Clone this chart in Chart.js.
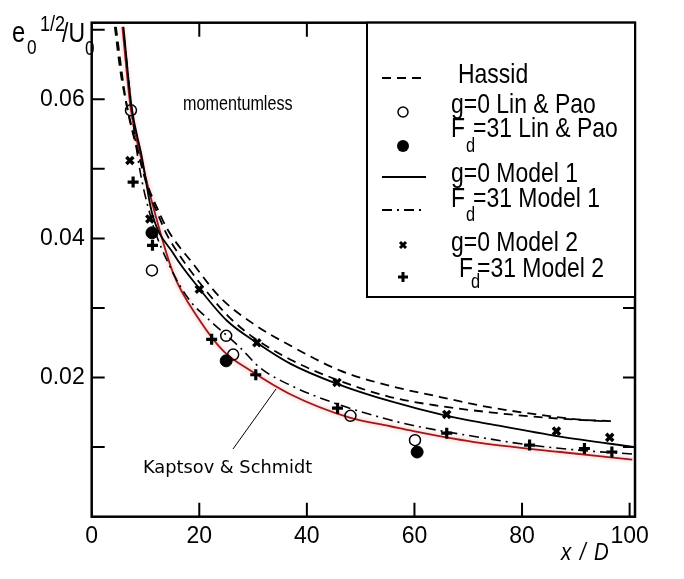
<!DOCTYPE html>
<html>
<head>
<meta charset="utf-8">
<script src="https://cdn.jsdelivr.net/npm/chart.js@4.4.1/dist/chart.umd.min.js"></script>
<style>
  html, body { margin:0; padding:0; background:#fff; }
  #c { display:block; }
</style>
</head>
<body>
<canvas id="c" width="684" height="579"></canvas>
<script>
/* curves (x/D , e0^1/2/U0) */
const hassidUpX = [4.3, 5.3, 6.3, 8.7, 10.5, 12.1, 14, 18.9, 23.9, 30.1, 36.9, 46.2, 55.5, 64.8, 74.1, 80.9, 90.2, 97.4];
const hassidUpY = [0.0704, 0.0642, 0.0599, 0.0522, 0.0474, 0.0445, 0.0414, 0.0363, 0.0315, 0.0277, 0.0246, 0.0210, 0.0188, 0.0172, 0.0157, 0.0149, 0.0140, 0.0137];
const hassidLoX = [4.5, 6.4, 8.8, 10.6, 12.3, 14, 16.4, 20, 25.4, 30, 36.9, 46.2, 55.5, 64.8, 74.1, 85, 96];
const hassidLoY = [0.0704, 0.0596, 0.0518, 0.0468, 0.0435, 0.0405, 0.0375, 0.0337, 0.0288, 0.0258, 0.0226, 0.0195, 0.0172, 0.0159, 0.0150, 0.0142, 0.0137];
const model1gX = [5.9, 7.4, 9.3, 11.2, 15.2, 20.1, 25.1, 30.7, 36.9, 45.6, 55.5, 66, 74.1, 87.1, 101];
const model1gY = [0.0704, 0.0590, 0.0518, 0.0437, 0.0378, 0.0327, 0.0282, 0.0250, 0.0220, 0.0191, 0.0166, 0.0145, 0.0133, 0.0115, 0.0100];
const model1fX = [6.0, 8.4, 11, 14.9, 18.3, 21.4, 27.6, 31.3, 36.9, 45.6, 55.5, 59.8, 72.2, 81.5, 91.5, 100.7];
const model1fY = [0.0690, 0.0525, 0.0430, 0.0354, 0.0310, 0.0286, 0.0243, 0.0214, 0.0189, 0.0162, 0.0139, 0.0131, 0.0114, 0.0103, 0.0095, 0.0090];
const kaptsovX = [5.7, 7.3, 9.3, 11.8, 15.2, 20.1, 24.5, 29.5, 36.9, 48.1, 55.5, 59.8, 72.2, 87.1, 100.5];
const kaptsovY = [0.0704, 0.0584, 0.0512, 0.0435, 0.0349, 0.0282, 0.0238, 0.0210, 0.0176, 0.0142, 0.0130, 0.0123, 0.0106, 0.0093, 0.0082];

/* symbols */
const linPaoGX = [7.3, 11.2, 25.0, 26.3, 48.1, 60.1];
const linPaoGY = [0.0584, 0.0354, 0.0260, 0.0233, 0.0145, 0.0110];
const linPaoFX = [11.2, 25.0, 60.5];
const linPaoFY = [0.0408, 0.0224, 0.0093];
const model2gX = [7.1, 10.8, 20.0, 30.7, 45.6, 66.0, 86.4, 96.3];
const model2gY = [0.0512, 0.0428, 0.0327, 0.0250, 0.0193, 0.0147, 0.0123, 0.0114];
const model2fX = [7.7, 11.3, 22.3, 30.5, 45.7, 66.0, 81.4, 91.6, 96.7];
const model2fY = [0.0481, 0.0390, 0.0255, 0.0204, 0.0156, 0.0120, 0.0103, 0.0098, 0.0093];

/* axes */
const xTicks = [0, 20, 40, 60, 80, 100];
const yLabelled = ["0.02", "0.04", "0.06"];

const SANS = "'Liberation Sans',Arial,sans-serif";
const DASH = [9, 6];
const DASHDOT = [10, 5, 2, 5];

const pts = (xs, ys) => xs.map((x, i) => ({x, y: ys[i]}));

function curve(label, xs, ys, color, dash, width) {
  return {label, data: pts(xs, ys), showLine: true, borderColor: color, borderWidth: width,
    borderDash: dash, pointRadius: 0, cubicInterpolationMode: "monotone", fill: false};
}
function symbols(label, xs, ys, style, r, bw, fillCol) {
  return {label, data: pts(xs, ys), showLine: false, pointStyle: style, pointRadius: r,
    pointBorderWidth: bw, pointBorderColor: "#000", pointBackgroundColor: fillCol};
}

const datasets = [
  symbols("g=0 Lin & Pao", linPaoGX, linPaoGY, "circle", 5.5, 1.5, "rgba(0,0,0,0)"),
  symbols("Fd=31 Lin & Pao", linPaoFX, linPaoFY, "circle", 6, 1, "#000"),
  symbols("g=0 Model 2", model2gX, model2gY, "crossRot", 5, 3.5, "#000"),
  symbols("Fd=31 Model 2", model2fX, model2fY, "cross", 5.5, 3.2, "#000"),
  curve("Hassid", hassidUpX, hassidUpY, "#000", DASH, 1.8),
  curve("Hassid 2", hassidLoX, hassidLoY, "#000", DASH, 1.8),
  curve("g=0 Model 1", model1gX, model1gY, "#000", [], 1.8),
  curve("Fd=31 Model 1", model1fX, model1fY, "#000", DASHDOT, 1.6),
  curve("Kaptsov & Schmidt", kaptsovX, kaptsovY, "#9c1a1c", [], 1.8)
];
const KS = datasets.length - 1;

// text with optional horizontal squeeze (the figure uses a narrow face)
function txt(ctx, s, x, y, font, sx) {
  ctx.save();
  ctx.translate(x, y);
  ctx.scale(sx || 1, 1);
  ctx.font = font;
  ctx.textAlign = "left";
  ctx.textBaseline = "alphabetic";
  ctx.fillText(s, 0, 0);
  ctx.restore();
}

const decor = {
  id: "decor",
  beforeDatasetDraw(chart, args) {
    if (args.index === KS) {
      const ctx = chart.ctx;
      ctx.shadowColor = "rgba(240,120,120,0.7)";
      ctx.shadowBlur = 4;
    }
  },
  afterDatasetDraw(chart, args) {
    if (args.index === KS) {
      chart.ctx.shadowColor = "rgba(0,0,0,0)";
      chart.ctx.shadowBlur = 0;
    }
  },
  afterDraw(chart) {
    const ctx = chart.ctx;
    const a = chart.chartArea;
    const xs = chart.scales.x, ys = chart.scales.y;
    ctx.save();
    ctx.strokeStyle = "#000";
    ctx.fillStyle = "#000";
    ctx.setLineDash([]);

    // frame
    ctx.lineWidth = 2.5;
    ctx.strokeRect(a.left, a.top, a.right - a.left, a.bottom - a.top);

    // inward ticks
    ctx.lineWidth = 2;
    ctx.beginPath();
    xs.ticks.forEach(t => {
      const p = xs.getPixelForValue(t.value);
      if (t.value === 0) return;
      ctx.moveTo(p, a.bottom); ctx.lineTo(p, a.bottom - 14);
      ctx.moveTo(p, a.top); ctx.lineTo(p, a.top + 14);
    });
    ys.ticks.forEach(t => {
      const p = ys.getPixelForValue(t.value);
      if (t.value === 0) return;
      ctx.moveTo(a.left, p); ctx.lineTo(a.left + 13, p);
      ctx.moveTo(a.right, p); ctx.lineTo(a.right - 12, p);
    });
    ctx.stroke();

    const N = 0.82;
    // y axis title
    txt(ctx, "e", 12, 42, "29px " + SANS, N);
    txt(ctx, "0", 27, 54, "21px " + SANS, N);
    txt(ctx, "1/2", 40, 31, "22px " + SANS, N);
    txt(ctx, "/U", 62, 42, "28px " + SANS, N);
    txt(ctx, "0", 85, 55, "21px " + SANS, N);

    // x axis title
    const it = "italic 24px " + SANS;
    txt(ctx, "x", 561, 560, it, 0.85);
    txt(ctx, "/", 580, 560, it, 0.85);
    txt(ctx, "D", 594, 560, it, 0.85);

    // annotations
    txt(ctx, "momentumless", 183, 110, "21px " + SANS, 0.77);
    txt(ctx, "Kaptsov & Schmidt", 143, 473, "17.8px 'DejaVu Sans',sans-serif");
    ctx.lineWidth = 1;
    ctx.beginPath();
    ctx.moveTo(233, 449); ctx.lineTo(276, 389);
    ctx.stroke();

    // legend box
    ctx.fillStyle = "#fff";
    ctx.fillRect(367, a.top, a.right - 367, 297 - a.top);
    ctx.fillStyle = "#000";
    ctx.lineWidth = 2;
    ctx.strokeRect(367, a.top, a.right - 367, 297 - a.top);

    const sample = (y, dash) => {
      ctx.lineWidth = 1.8;
      ctx.setLineDash(dash);
      ctx.beginPath(); ctx.moveTo(382, y); ctx.lineTo(426, y); ctx.stroke();
      ctx.setLineDash([]);
    };
    sample(78, DASH);
    sample(177, []);
    sample(210, DASHDOT);

    ctx.lineWidth = 1.5;
    ctx.beginPath(); ctx.arc(403, 112, 5, 0, Math.PI * 2); ctx.stroke();
    ctx.beginPath(); ctx.arc(403, 146, 6, 0, Math.PI * 2); ctx.fill();
    ctx.lineWidth = 3;
    ctx.beginPath();
    ctx.moveTo(400, 242); ctx.lineTo(406, 248); ctx.moveTo(406, 242); ctx.lineTo(400, 248);
    ctx.moveTo(403, 272); ctx.lineTo(403, 282); ctx.moveTo(398, 277); ctx.lineTo(408, 277);
    ctx.stroke();

    const f = "28px " + SANS, sub = "20px " + SANS;
    txt(ctx, "Hassid", 458, 83, f, N);
    txt(ctx, "g=0 Lin & Pao", 451, 113, f, N);
    txt(ctx, "F", 451, 137, f, N); txt(ctx, "d", 466, 152, sub, N); txt(ctx, "=31 Lin & Pao", 473, 137, f, N);
    txt(ctx, "g=0 Model 1", 451, 182, f, N);
    txt(ctx, "F", 451, 207, f, N); txt(ctx, "d", 466, 221, sub, N); txt(ctx, "=31 Model 1", 473, 207, f, N);
    txt(ctx, "g=0 Model 2", 451, 251, f, N);
    txt(ctx, "F", 459, 277, f, N); txt(ctx, "d", 471, 288, sub, N); txt(ctx, "=31 Model 2", 477, 277, f, N);

    ctx.restore();
  }
};

new Chart(document.getElementById("c"), {
  type: "scatter",
  data: {datasets},
  options: {
    responsive: false,
    animation: false,
    events: [],
    layout: {padding: {top: 22.7, right: 49, left: 0, bottom: 0}},
    plugins: {legend: {display: false}, tooltip: {enabled: false}},
    scales: {
      x: {
        type: "linear", min: 0, max: 101,
        afterFit: s => { s.height = 62.3; },
        afterBuildTicks: s => { s.ticks = xTicks.map(v => ({value: v})); },
        grid: {display: false, drawTicks: false},
        border: {display: false},
        ticks: {color: "#000", padding: 6, autoSkip: false, maxRotation: 0,
          font: {family: SANS, size: 23}, callback: v => String(v)}
      },
      y: {
        type: "linear", min: 0, max: 0.071,
        afterFit: s => { s.width = 91.7; },
        grid: {display: false, drawTicks: false},
        border: {display: false},
        ticks: {color: "#000", padding: 7, stepSize: 0.01, includeBounds: false, autoSkip: false,
          font: {family: SANS, size: 23},
          callback: v => {
            const s = v.toFixed(2);
            return yLabelled.includes(s) ? s : "";
          }}
      }
    }
  },
  plugins: [decor]
});
</script>
</body>
</html>
